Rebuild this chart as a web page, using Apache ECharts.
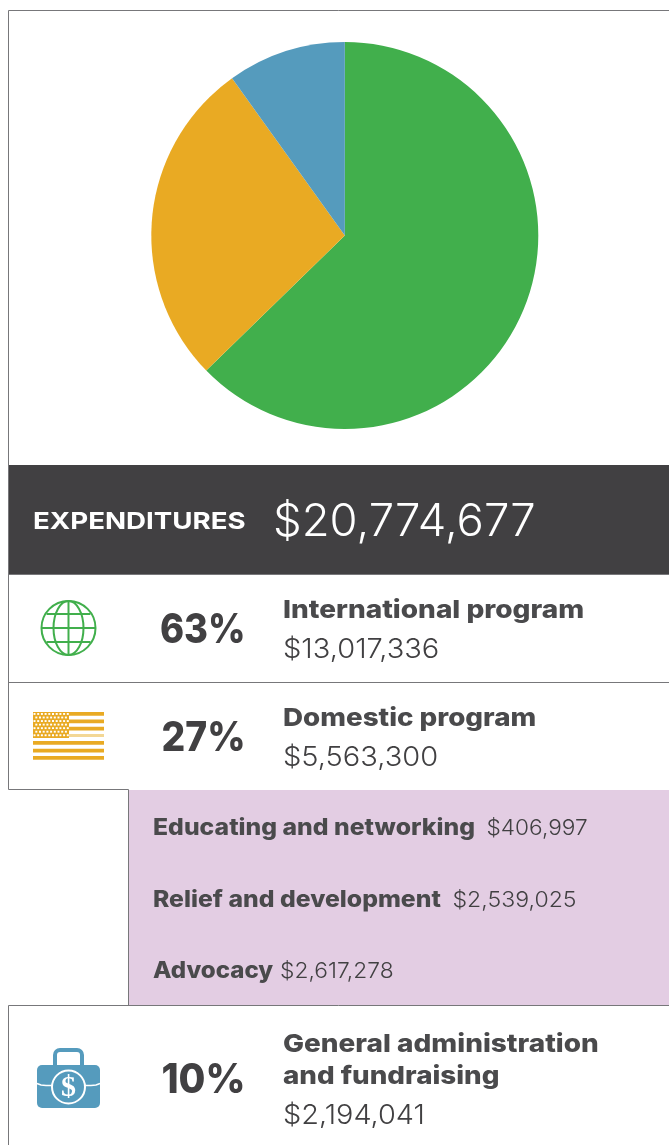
<!DOCTYPE html>
<html><head><meta charset="utf-8">
<style>html,body{margin:0;padding:0;background:#fff}#c{width:669px;height:1145px}</style>
<script src="https://cdn.jsdelivr.net/npm/echarts@6/dist/echarts.min.js"></script>
</head><body><div id="c"></div>
<script>
const categories = ['International program','Domestic program','General administration and fundraising'];
const shares = [62.7,27.4,9.9];
const colors = ['#41af4c','#e9aa23','#559bbd'];
const percents = ['63%','27%','10%'];
const amounts = ['$13,017,336','$5,563,300','$2,194,041'];
const subLabels = ['Educating and networking','Relief and development','Advocacy'];
const subAmounts = ['$406,997','$2,539,025','$2,617,278'];
const totalLabel = 'EXPENDITURES';
const totalAmount = '$20,774,677';

const dark = '#414042', line = '#77777a', head = '#4a4a4c';
const F = 'Inter, sans-serif';
const g = [];
function rect(x,y,w,h,fill,r){g.push({type:'rect',shape:{x,y,width:w,height:h,r:r||0},style:{fill}});}
function seg(pts){g.push({type:'polyline',shape:{points:pts},style:{stroke:line,lineWidth:1,fill:null}});}
function text(t,x,y,size,weight,fill,sx,align,family){g.push({type:'text',x,y,scaleX:sx||1,style:{text:t,font:weight+' '+size+'px '+(family||F),fill,textAlign:align||'left',textVerticalAlign:'middle'}});}

rect(129,790,540,215,'#e3cde3');
rect(9,465,660,109,dark);
seg([[669,10.5],[8.5,10.5],[8.5,789.5],[128.5,789.5],[128.5,1005.5]]);
seg([[9,574.5],[669,574.5]]);
seg([[9,682.5],[669,682.5]]);
seg([[8.5,1145],[8.5,1005.5],[669,1005.5]]);

text(totalLabel,33,522,23.5,700,'#fff',1.178);
text(totalAmount,273,522,45,300,'#fff',1.01);

text(percents[0],245.5,631,40.5,800,dark,0.9,'right');
text(percents[1],245.5,739,40.5,800,dark,0.92,'right');
text(percents[2],245.5,1081,40.5,800,dark,0.96,'right');

text(categories[0],283,610,25,800,head,1.12);
text(amounts[0],283,650,27,300,dark,1.076);
text(categories[1],283,718,25,800,head,1.11);
text(amounts[1],283,758,27,300,dark,1.076);
text('General administration',283,1044,25,800,head,1.118);
text('and fundraising',283,1076,25,800,head,1.11);
text(amounts[2],283,1116,27,300,dark,1.07);

text(subLabels[0],153,828,22.5,800,head,1.1);
text(subAmounts[0],486.5,828,22,300,dark,1.03);
text(subLabels[1],153,900,22.5,800,head,1.1);
text(subAmounts[1],452.5,900,22,300,dark,1.05);
text(subLabels[2],153,971,22.5,800,head,1.07);
text(subAmounts[2],280,971,22,300,dark,1.036);

// globe icon
const gc = colors[0], cx = 68.5, cy = 628;
const st = {stroke:gc,lineWidth:2,fill:null};
g.push({type:'circle',shape:{cx,cy,r:27},style:st});
g.push({type:'ellipse',shape:{cx,cy,rx:15,ry:27},style:st});
g.push({type:'line',shape:{x1:cx,y1:cy-27,x2:cx,y2:cy+27},style:st});
g.push({type:'line',shape:{x1:cx-27,y1:cy,x2:cx+27,y2:cy},style:st});
g.push({type:'line',shape:{x1:cx-22,y1:cy-14,x2:cx+22,y2:cy-14},style:st});
g.push({type:'line',shape:{x1:cx-22,y1:cy+14,x2:cx+22,y2:cy+14},style:st});

// flag icon
const fc = colors[1];
[712,719.4,726.8,734,741,748.8,756].forEach((y,i)=>{
  rect(33,y,71,i===3?3:3.8,i===3?'#f3d795':fc);
});
rect(33,712,36,26,fc);
for(let r=0;r<7;r++){for(let c=0;c<(r%2?9:10);c++){
  rect(33.5+c*3.7+(r%2?1.8:0),713+r*3.55,2,1.9,'#fff');
}}

// briefcase icon
const bc = colors[2];
g.push({type:'rect',shape:{x:55,y:1050,width:27,height:22,r:5},style:{fill:null,stroke:bc,lineWidth:4}});
rect(37,1065,63,43,bc,5);
g.push({type:'polyline',shape:{points:[[37,1083.5],[41,1085],[46,1085.5],[54,1085.5]]},style:{stroke:'#fff',lineWidth:1.6,fill:null}});
g.push({type:'polyline',shape:{points:[[83,1085.5],[91,1085.5],[96,1085],[100,1083.5]]},style:{stroke:'#fff',lineWidth:1.6,fill:null}});
g.push({type:'circle',shape:{cx:68.5,cy:1087,r:16.5},style:{fill:bc,stroke:'#fff',lineWidth:2}});
g.push({type:'text',x:68.5,y:1088,style:{text:'$',font:'700 30px "Liberation Serif", serif',fill:'#fff',textAlign:'center',textVerticalAlign:'middle'}});

const chart = echarts.init(document.getElementById('c'),null,{renderer:'canvas'});
chart.setOption({
  animation:false,
  graphic:{elements:g},
  series:[{
    type:'pie',
    center:[344.8,235.5],
    radius:[0,193.5],
    startAngle:90,
    clockwise:true,
    label:{show:false},
    labelLine:{show:false},
    silent:true,
    itemStyle:{borderWidth:0},
    data:categories.map((n,i)=>({name:n,value:shares[i],itemStyle:{color:colors[i]}}))
  }]
});
</script></body></html>
